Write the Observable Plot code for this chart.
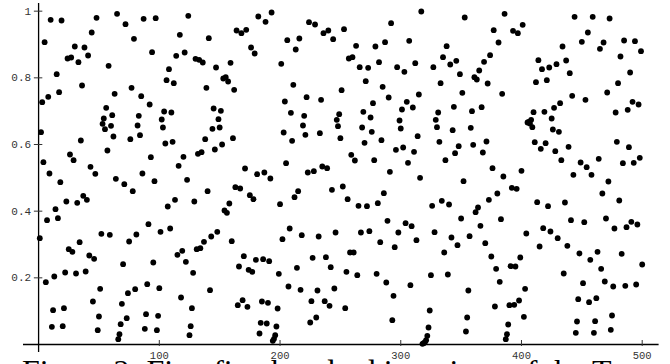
<!DOCTYPE html>
<html>
<head>
<meta charset="utf-8">
<script src="https://cdn.jsdelivr.net/npm/d3@7"></script>
<script src="https://cdn.jsdelivr.net/npm/@observablehq/plot@0.6"></script>
<style>
  html, body { margin: 0; padding: 0; background: #fff; overflow: hidden; }
  #chart svg { display: block; }
  #caption { font-family: "Liberation Serif", serif; font-size: 32px; line-height: 24px; height: 24px; padding-left: 22px; white-space: nowrap; color: #000; }
</style>
</head>
<body>
<div id="chart"></div>
<div id="caption"></div>
<script>
const captionText = "Figure 2: First five hundred iterations of the Tent map";
const xTicks = [100, 200, 300, 400, 500];
const yTicks = [0.2, 0.4, 0.6, 0.8, 1];
const yTickLabels = ["0.2", "0.4", "0.6", "0.8", "1"];
// value of iteration n (n = 1 … 500)
const values = [
  0.319,0.637,0.727,0.547,0.907,0.187,0.373,0.743,0.513,0.974,
  0.053,0.103,0.204,0.406,0.811,0.379,0.757,0.487,0.972,0.055,
  0.109,0.216,0.429,0.858,0.286,0.570,0.861,0.278,0.553,0.894,
  0.213,0.425,0.847,0.307,0.612,0.777,0.446,0.891,0.219,0.434,
  0.867,0.267,0.533,0.936,0.129,0.257,0.512,0.980,0.043,0.084,
  0.167,0.332,0.662,0.678,0.646,0.710,0.582,0.836,0.329,0.656,
  0.688,0.624,0.752,0.497,0.992,0.016,0.031,0.061,0.122,0.241,
  0.481,0.961,0.079,0.154,0.309,0.616,0.770,0.460,0.917,0.166,
  0.330,0.657,0.686,0.628,0.745,0.513,0.977,0.047,0.091,0.181,
  0.361,0.720,0.562,0.877,0.246,0.490,0.979,0.043,0.086,0.169,
  0.338,0.675,0.651,0.699,0.603,0.793,0.414,0.826,0.348,0.696,
  0.608,0.784,0.434,0.866,0.269,0.536,0.929,0.141,0.281,0.563,
  0.876,0.248,0.494,0.986,0.028,0.055,0.109,0.215,0.429,0.857,
  0.286,0.572,0.854,0.289,0.577,0.846,0.308,0.616,0.770,0.460,
  0.919,0.163,0.324,0.647,0.708,0.585,0.831,0.338,0.676,0.651,
  0.701,0.600,0.798,0.402,0.802,0.395,0.789,0.423,0.845,0.310,
  0.619,0.764,0.472,0.942,0.118,0.234,0.468,0.934,0.133,0.265,
  0.528,0.944,0.113,0.224,0.448,0.891,0.218,0.436,0.873,0.254,
  0.511,0.984,0.033,0.065,0.129,0.256,0.516,0.968,0.063,0.125,
  0.250,0.498,0.996,0.011,0.017,0.028,0.054,0.108,0.212,0.421,
  0.842,0.316,0.636,0.729,0.544,0.913,0.174,0.348,0.695,0.611,
  0.779,0.442,0.885,0.230,0.460,0.918,0.164,0.328,0.657,0.686,
  0.629,0.742,0.516,0.967,0.066,0.130,0.260,0.520,0.960,0.081,
  0.162,0.324,0.634,0.734,0.534,0.934,0.130,0.262,0.529,0.942,
  0.116,0.232,0.464,0.916,0.168,0.336,0.674,0.655,0.691,0.619,
  0.763,0.474,0.946,0.109,0.218,0.436,0.858,0.276,0.569,0.862,
  0.276,0.552,0.896,0.208,0.416,0.832,0.336,0.651,0.698,0.605,
  0.790,0.415,0.830,0.340,0.681,0.638,0.724,0.553,0.894,0.212,
  0.424,0.847,0.307,0.613,0.773,0.454,0.907,0.186,0.371,0.741,
  0.518,0.964,0.073,0.146,0.292,0.584,0.832,0.336,0.672,0.648,
  0.705,0.591,0.818,0.364,0.728,0.545,0.911,0.178,0.355,0.711,
  0.578,0.844,0.313,0.625,0.750,0.500,0.999,0.002,0.004,0.007,
  0.013,0.026,0.051,0.102,0.208,0.416,0.832,0.337,0.674,0.652,
  0.696,0.608,0.784,0.431,0.862,0.276,0.553,0.895,0.210,0.420,
  0.840,0.321,0.643,0.713,0.574,0.851,0.298,0.595,0.811,0.378,
  0.755,0.490,0.981,0.039,0.081,0.162,0.325,0.650,0.700,0.599,
  0.802,0.397,0.795,0.411,0.822,0.356,0.712,0.576,0.848,0.304,
  0.609,0.783,0.434,0.868,0.264,0.529,0.943,0.114,0.227,0.453,
  0.906,0.188,0.376,0.752,0.504,0.992,0.016,0.031,0.060,0.118,
  0.235,0.470,0.941,0.119,0.234,0.467,0.934,0.132,0.261,0.521,
  0.959,0.083,0.167,0.333,0.666,0.668,0.663,0.674,0.652,0.697,
  0.607,0.787,0.427,0.853,0.294,0.587,0.826,0.349,0.698,0.604,
  0.793,0.415,0.831,0.339,0.678,0.645,0.710,0.580,0.841,0.319,
  0.638,0.724,0.553,0.894,0.213,0.426,0.852,0.296,0.593,0.814,
  0.373,0.746,0.509,0.983,0.035,0.069,0.136,0.273,0.546,0.908,
  0.184,0.367,0.734,0.532,0.936,0.127,0.254,0.509,0.983,0.035,
  0.070,0.139,0.278,0.557,0.887,0.227,0.453,0.906,0.189,0.378,
  0.756,0.489,0.978,0.044,0.087,0.174,0.348,0.696,0.608,0.784,
  0.432,0.864,0.272,0.544,0.912,0.176,0.352,0.704,0.592,0.816,
  0.368,0.728,0.545,0.910,0.180,0.360,0.720,0.560,0.880,0.240
];

const points = values.map((v, i) => ({n: i + 1, v}));

const chart = Plot.plot({
  width: 670,
  height: 359,
  marginLeft: 23,
  marginRight: 11.4,
  marginTop: 3,
  marginBottom: 7,
  x: {domain: [-12.5, 514], axis: null},
  y: {domain: [-0.024, 1.023], axis: null},
  style: {background: "#fff", overflow: "visible"},
  marks: [
    Plot.ruleY([0], {stroke: "#000", strokeWidth: 1.3}),
    Plot.ruleX([0], {stroke: "#000", strokeWidth: 1.3}),
    Plot.ruleX(xTicks, {x: d => d, y1: -0.006, y2: 0.012, stroke: "#333", strokeWidth: 1}),
    Plot.ruleY(yTicks, {y: d => d, x1: -3.5, x2: 3.5, stroke: "#333", strokeWidth: 1}),
    Plot.text(xTicks, {x: d => d, y: 0, dy: 11, text: d => String(d), fontFamily: "Liberation Mono", fontSize: 10.5, fill: "#333"}),
    Plot.text(yTicks, {x: 0, y: d => d, dx: -7.5, text: (d, i) => yTickLabels[i], textAnchor: "end", fontFamily: "Liberation Mono", fontSize: 11, fill: "#333"}),
    Plot.dot(points, {x: "n", y: "v", r: 2.9, fill: "#000", stroke: "none"})
  ]
});
document.getElementById("chart").appendChild(chart);
document.getElementById("caption").textContent = captionText;
</script>
</body>
</html>
